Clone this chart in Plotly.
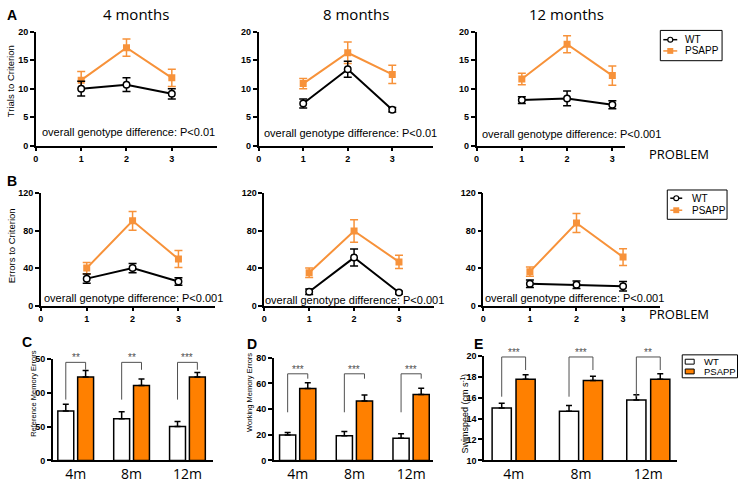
import plotly.graph_objects as go

W, H = 738, 483


def px(x):
    return x / W


def py(y):
    return 1 - y / H


# ---------------- data ----------------
problems = [1, 2, 3]
problem_ticks = [0, 1, 2, 3]

trials_wt_4m = [10.0, 10.7, 9.1]
trials_wt_4m_err = [1.3, 1.2, 0.9]
trials_ps_4m = [11.5, 17.2, 11.9]
trials_ps_4m_err = [1.5, 1.5, 1.5]
trials_wt_8m = [7.4, 13.4, 6.3]
trials_wt_8m_err = [0.8, 1.4, 0.4]
trials_ps_8m = [10.9, 16.3, 12.5]
trials_ps_8m_err = [0.9, 1.9, 1.6]
trials_wt_12m = [8.0, 8.3, 7.2]
trials_wt_12m_err = [0.6, 1.3, 0.7]
trials_ps_12m = [11.7, 17.8, 12.3]
trials_ps_12m_err = [1.0, 1.5, 1.7]

errors_wt_4m = [28.8, 40.0, 25.7]
errors_wt_4m_err = [5, 5, 4]
errors_ps_4m = [40.0, 90.3, 49.6]
errors_ps_4m_err = [6, 10, 9]
errors_wt_8m = [14.8, 51.2, 14.0]
errors_wt_8m_err = [3, 9, 1.5]
errors_ps_8m = [35.0, 79.5, 46.6]
errors_ps_8m_err = [5, 12, 7]
errors_wt_12m = [23.4, 22.4, 20.7]
errors_wt_12m_err = [4, 4, 5]
errors_ps_12m = [36.2, 88.0, 51.7]
errors_ps_12m_err = [5, 10, 9]

ages = ["4m", "8m", "12m"]
ref_wt = [73.0, 61.6, 50.0]
ref_wt_err = [9.8, 10.1, 7.3]
ref_ps = [123.0, 110.6, 123.0]
ref_ps_err = [9.7, 9.7, 6.9]
ref_sig = ["**", "**", "***"]
ref_ticks = [0, 50, 100, 150]
ref_ticktext = ["0", "50", "00", "50"]

work_wt = [19.8, 19.3, 17.3]
work_wt_err = [2.0, 3.3, 3.5]
work_ps = [56.0, 46.4, 51.3]
work_ps_err = [4.5, 4.6, 5.0]
work_sig = ["***", "***", "***"]
work_ticks = [0, 20, 40, 60, 80]

swim_wt = [15.0, 14.69, 15.78]
swim_wt_err = [0.47, 0.56, 0.49]
swim_ps = [17.76, 17.64, 17.76]
swim_ps_err = [0.44, 0.40, 0.53]
swim_sig = ["***", "***", "**"]
swim_ticks = [10, 12, 14, 16, 18, 20]

genotype_texts = [
    "overall genotype difference: P<0.01",
    "overall genotype difference: P<0.01",
    "overall genotype difference: P<0.001",
    "overall genotype difference: P<0.001",
    "overall genotype difference: P<0.001",
    "overall genotype difference: P<0.001",
]
month_titles = ["4 months", "8 months", "12 months"]

# ---------------- styles ----------------
BLACK = "#000000"
ORANGE_LINE = "#F7923A"
ORANGE_BAR = "#FF8000"
GRAY = "#505050"
ARIAL = "Arial, Liberation Sans, sans-serif"
HUMAN = "Open Sans, Lato, sans-serif"

fig = go.Figure()

tickfont = dict(family=ARIAL, size=9, color=BLACK, weight="bold")
axis_common = dict(showline=True, linecolor=BLACK, linewidth=1.5, ticks="outside",
                   ticklen=4, tickwidth=1.5, tickcolor=BLACK, showgrid=False,
                   zeroline=False, tickfont=tickfont, fixedrange=True)

# panel geometry (pixels) : x0, x1, y_top, y_bottom, xrange
line_geo = [
    (33, 215, 27.3, 144, [0, 4.0]),
    (256.7, 432, 27.3, 144, [0, 3.92]),
    (475.5, 625, 27.3, 144, [0, 3.29]),
    (38, 213, 192.3, 307.7, [0, 3.8]),
    (262.3, 433, 192.3, 307.7, [0, 3.785]),
    (482.3, 660, 192.3, 307.7, [0, 3.8]),
]
line_data = [
    (trials_wt_4m, trials_wt_4m_err, trials_ps_4m, trials_ps_4m_err),
    (trials_wt_8m, trials_wt_8m_err, trials_ps_8m, trials_ps_8m_err),
    (trials_wt_12m, trials_wt_12m_err, trials_ps_12m, trials_ps_12m_err),
    (errors_wt_4m, errors_wt_4m_err, errors_ps_4m, errors_ps_4m_err),
    (errors_wt_8m, errors_wt_8m_err, errors_ps_8m, errors_ps_8m_err),
    (errors_wt_12m, errors_wt_12m_err, errors_ps_12m, errors_ps_12m_err),
]
text_pos = [(2.05, 2.4), (2.06, 2.2), (2.1, 2.0), (2.01, 8.7), (2.02, 6.0), (1.96, 8.6)]

annotations = []
shapes = []

for i, ((x0, x1, yt, yb, xr), (wt, wte, ps, pse)) in enumerate(zip(line_geo, line_data)):
    n = i + 1
    xa = "x" if n == 1 else f"x{n}"
    ya = "y" if n == 1 else f"y{n}"
    xkey = "xaxis" if n == 1 else f"xaxis{n}"
    ykey = "yaxis" if n == 1 else f"yaxis{n}"
    is_a = i < 3
    fig.add_trace(go.Scatter(
        x=problems, y=ps, mode="lines+markers", xaxis=xa, yaxis=ya, showlegend=False,
        line=dict(color=ORANGE_LINE, width=2),
        marker=dict(symbol="square", size=7, color=ORANGE_LINE),
        error_y=dict(type="data", array=pse, color=ORANGE_LINE, thickness=1.5, width=4)))
    fig.add_trace(go.Scatter(
        x=problems, y=wt, mode="lines+markers", xaxis=xa, yaxis=ya, showlegend=False,
        line=dict(color=BLACK, width=2),
        marker=dict(symbol="circle", size=6.5, color="white", line=dict(color=BLACK, width=1.5)),
        error_y=dict(type="data", array=wte, color=BLACK, thickness=1.5, width=4)))
    fig.layout[xkey] = dict(axis_common, domain=[px(x0), px(x1)], range=xr, anchor=ya,
                            tickvals=problem_ticks)
    if is_a:
        fig.layout[ykey] = dict(axis_common, domain=[py(yb), py(yt)], range=[0, 20],
                                anchor=xa, tickvals=[0, 5, 10, 15, 20])
    else:
        fig.layout[ykey] = dict(axis_common, domain=[py(yb), py(yt)], range=[0, 120],
                                anchor=xa, tickvals=[0, 40, 80, 120])
    tx, ty = text_pos[i]
    annotations.append(dict(x=tx, y=ty, xref=xa, yref=ya, text=genotype_texts[i],
                            xanchor="center", yanchor="middle",
                            showarrow=False, font=dict(family=ARIAL, size=11, color=BLACK)))

# ---------------- bar panels ----------------
bar_geo = [
    (50, 211, 362, 466, [-0.41, 2.46], [0, 150]),
    (272, 432, 361, 466, [-0.42, 2.39], [0, 80]),
    (483, 677, 359, 466, [-0.44, 2.43], [10, 20]),
]
bar_data = [
    (ref_wt, ref_wt_err, ref_ps, ref_ps_err, ref_sig, ref_ticks, ref_ticktext),
    (work_wt, work_wt_err, work_ps, work_ps_err, work_sig, work_ticks, None),
    (swim_wt, swim_wt_err, swim_ps, swim_ps_err, swim_sig, swim_ticks, None),
]
# bracket style per panel: gap above highest error, right drop, left drop (data units)
bracket_style = [(12.0, 11.0, 55.0), (7.0, 3.8, 30.0), (1.6, 1.25, 3.8)]
BW = 0.285
OFF_WT = -0.32
OFF_PS = 0.035
xpos = [0, 1, 2]

for j, ((x0, x1, yt, yb, xr, yr), (wt, wte, ps, pse, sig, tv, tt)) in enumerate(zip(bar_geo, bar_data)):
    n = 7 + j
    xa, ya = f"x{n}", f"y{n}"
    fig.add_trace(go.Bar(
        x=xpos, y=wt, width=BW, offset=OFF_WT, xaxis=xa, yaxis=ya, showlegend=False,
        marker=dict(color="white", line=dict(color=BLACK, width=1.5)),
        error_y=dict(type="data", symmetric=False, array=wte, arrayminus=[0, 0, 0],
                     color=BLACK, thickness=1.5, width=3)))
    fig.add_trace(go.Bar(
        x=xpos, y=ps, width=BW, offset=OFF_PS, xaxis=xa, yaxis=ya, showlegend=False,
        marker=dict(color=ORANGE_BAR, line=dict(color=BLACK, width=1.5)),
        error_y=dict(type="data", symmetric=False, array=pse, arrayminus=[0, 0, 0],
                     color=BLACK, thickness=1.5, width=3)))

    gap, rdrop, ldrop = bracket_style[j]
    top = max(p + e for p, e in zip(ps, pse)) + gap

    fig.layout[f"xaxis{n}"] = dict(axis_common, domain=[px(x0), px(x1)], range=xr, anchor=ya,
                                   tickvals=xpos, ticktext=ages, ticks="",
                                   tickfont=dict(family=HUMAN, size=14, color=BLACK))
    yax = dict(axis_common, domain=[py(yb), py(yt)], range=yr, anchor=xa, tickvals=tv)
    if tt is not None:
        yax["ticktext"] = tt
    fig.layout[f"yaxis{n}"] = yax

    bx, by = [], []
    cw = OFF_WT + BW / 2
    cp = OFF_PS + BW / 2
    for k in xpos:
        bx += [k + cw, k + cw, k + cp, k + cp, None]
        by += [top - ldrop, top, top, top - rdrop, None]
        annotations.append(dict(x=k + (cw + cp) / 2, y=top, xref=xa, yref=ya, text=sig[k],
                                showarrow=False, xanchor="center", yanchor="bottom", yshift=-3,
                                font=dict(family=ARIAL, size=10, color=GRAY)))
    fig.add_trace(go.Scatter(x=bx, y=by, mode="lines", xaxis=xa, yaxis=ya, showlegend=False,
                             cliponaxis=False, line=dict(color=GRAY, width=1)))


def paper_text(text, cx, cy, font, xanchor="center", angle=0):
    annotations.append(dict(x=px(cx), y=py(cy), xref="paper", yref="paper", text=text,
                            xanchor=xanchor, yanchor="middle", textangle=angle,
                            showarrow=False, font=font))


# ---------------- texts ----------------
for t, cx in zip(month_titles, [133.7, 354, 566]):
    paper_text(t, cx, 9, dict(family=HUMAN, size=15, color=BLACK))
for cy in [152.5, 316.7]:
    paper_text("PROBLEM", 647, cy, dict(family=HUMAN, size=13, color=BLACK), xanchor="left")
for letter, cx, cy in [("A", 9, 10), ("B", 9, 180), ("C", 24, 345), ("D", 250, 347), ("E", 477, 347)]:
    paper_text(letter, cx, cy, dict(family=ARIAL, size=14, color=BLACK, weight="bold"))
for txt, cx, cy, sz in [("Trials to Criterion", 7, 78, 9.5),
                        ("Errors to Criterion", 8, 246, 9.5),
                        ("Reference Memory Errors", 31, 397, 7.5),
                        ("Working Memory Errors", 248, 396, 7.5),
                        ("Swimspeed (cm s<sup>-1</sup>)", 464, 418, 9)]:
    paper_text(txt, cx, cy, dict(family=ARIAL, size=sz, color=BLACK), angle=-90)


# ---------------- legends (drawn) ----------------
def rect(x0, y0, x1, y1, **kw):
    shapes.append(dict(type="rect", xref="paper", yref="paper",
                       x0=px(x0), x1=px(x1), y0=py(y1), y1=py(y0), **kw))


def line_legend(bx0, by0, bx1, by1, lx0, lx1, tx, rows):
    rect(bx0, by0, bx1, by1, line=dict(color=BLACK, width=1), fillcolor="white")
    for name, color, sym, ry in rows:
        shapes.append(dict(type="line", xref="paper", yref="paper", x0=px(lx0), x1=px(lx1),
                           y0=py(ry), y1=py(ry), line=dict(color=color, width=1.5)))
        cx = (lx0 + lx1) / 2
        if sym == "circle":
            shapes.append(dict(type="circle", xref="paper", yref="paper",
                               x0=px(cx - 2.5), x1=px(cx + 2.5), y0=py(ry + 2.5), y1=py(ry - 2.5),
                               line=dict(color=color, width=1.2), fillcolor="white"))
        else:
            rect(cx - 3, ry - 3, cx + 3, ry + 3, line=dict(width=0), fillcolor=color)
        paper_text(name, tx, ry, dict(family=ARIAL, size=10, color=BLACK), xanchor="left")


line_legend(660, 26, 722, 57, 663, 677, 683,
            [("WT", BLACK, "circle", 35.5), ("PSAPP", ORANGE_LINE, "square", 47)])
line_legend(667, 189.3, 727, 219.3, 670, 682, 690,
            [("WT", BLACK, "circle", 197.7), ("PSAPP", ORANGE_LINE, "square", 210)])

rect(682, 358, 737.5, 381.5, line=dict(color=BLACK, width=1), fillcolor="white")
for name, fill, ry in [("WT", "white", 365), ("PSAPP", ORANGE_BAR, 375)]:
    rect(685, ry - 2.5, 694, ry + 2.5, line=dict(color=BLACK, width=1), fillcolor=fill)
    paper_text(name, 702, ry, dict(family=ARIAL, size=9.5, color=BLACK), xanchor="left")

fig.update_layout(
    width=W, height=H, autosize=False,
    margin=dict(l=0, r=0, t=0, b=0),
    paper_bgcolor="white", plot_bgcolor="white",
    showlegend=False, annotations=annotations, shapes=shapes,
)

fig.write_html("out.html", config={"displayModeBar": False},
               post_script="document.body.style.margin='0';document.body.style.overflow='hidden';")
